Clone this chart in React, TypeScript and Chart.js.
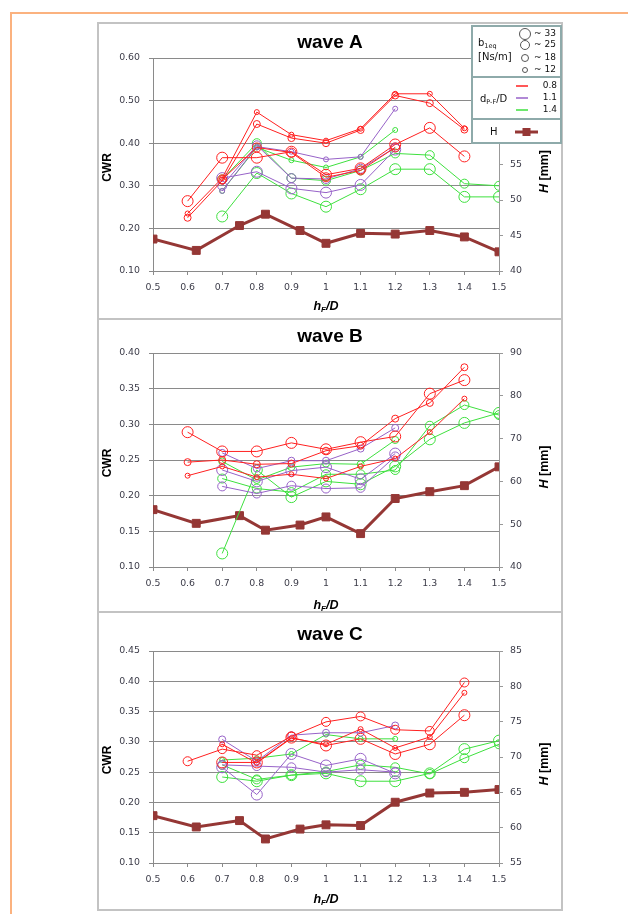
import React, { useEffect, useRef } from "react";
import { Chart, registerables } from "chart.js";
Chart.register(...registerables);

// ---------- data ----------
const X_CWR = [0.6, 0.7, 0.8, 0.9, 1.0, 1.1, 1.2, 1.3, 1.4, 1.5];
const X_H = [0.5, 0.625, 0.75, 0.825, 0.925, 1.0, 1.1, 1.2, 1.3, 1.4, 1.5];

const D_VALUES = ["0.8", "1.1", "1.4"];
const B_VALUES = [33, 25, 18, 12];

// wave A
const A_H = [44.5, 42.9, 46.4, 48.0, 45.7, 43.9, 45.3, 45.2, 45.7, 44.8, 42.7];
const A_d08_b12 = [0.235, 0.318, 0.473, 0.42, 0.406, 0.434, 0.516, 0.516, 0.435, null];
const A_d08_b18 = [0.225, 0.312, 0.445, 0.412, 0.4, 0.431, 0.512, 0.494, 0.432, null];
const A_d08_b25 = [null, 0.315, 0.39, 0.378, 0.32, 0.336, 0.39, null, null, null];
const A_d08_b33 = [0.264, 0.366, 0.366, 0.38, 0.326, 0.341, 0.397, 0.436, 0.369, null];
const A_d11_b12 = [null, 0.288, 0.392, 0.38, 0.362, 0.368, 0.481, null, null, null];
const A_d11_b25 = [null, 0.3, 0.395, 0.318, 0.316, 0.34, 0.39, null, null, null];
const A_d11_b33 = [null, 0.318, 0.333, 0.294, 0.284, 0.302, 0.385, null, null, null];
const A_d14_b12 = [null, 0.288, 0.39, 0.36, 0.343, 0.368, 0.431, null, null, null];
const A_d14_b25 = [null, 0.315, 0.4, 0.318, 0.312, 0.336, 0.376, 0.372, 0.305, 0.3];
const A_d14_b33 = [null, 0.228, 0.33, 0.282, 0.251, 0.292, 0.339, 0.339, 0.274, 0.274];

// wave B
const B_H = [53.4, 50.2, 52.0, 48.6, 49.8, 51.7, 47.8, 56.0, 57.6, 59.0, 63.4];
const B_d08_b33 = [0.289, 0.262, 0.262, 0.274, 0.265, 0.275, 0.283, 0.343, 0.362, null];
const B_d08_b18 = [0.247, 0.25, 0.244, 0.245, 0.263, 0.27, 0.308, 0.33, 0.38, null];
const B_d08_b12 = [0.228, 0.241, 0.226, 0.23, 0.224, 0.241, 0.252, 0.289, 0.336, null];
const B_d11_b18 = [null, 0.26, 0.238, 0.249, 0.249, 0.266, 0.295, null, null, null];
const B_d11_b33 = [null, 0.236, 0.22, 0.235, 0.24, 0.223, 0.259, null, null, null];
const B_d11_b25 = [null, 0.213, 0.203, 0.214, 0.21, 0.211, 0.255, null, null, null];
const B_d14_b33 = [null, 0.119, 0.236, 0.198, 0.22, 0.216, 0.241, 0.279, 0.302, 0.316];
const B_d14_b18 = [null, 0.248, 0.222, 0.24, 0.245, 0.244, 0.278, null, null, null];
const B_d14_b25 = [null, 0.224, 0.21, 0.205, 0.23, 0.23, 0.236, 0.298, 0.327, 0.313];

// wave C
const C_H = [61.7, 60.1, 61.0, 58.4, 59.8, 60.4, 60.3, 63.6, 64.9, 65.0, 65.4];
const C_d08_b25 = [0.268, 0.288, 0.278, 0.309, 0.333, 0.342, 0.32, 0.318, 0.398, null];
const C_d08_b12 = [null, 0.296, 0.265, 0.306, 0.296, 0.321, 0.29, 0.308, 0.381, null];
const C_d08_b33 = [null, 0.266, 0.266, 0.307, 0.294, 0.305, 0.28, 0.296, 0.344, null];
const C_d11_b18 = [null, 0.304, 0.268, 0.311, 0.315, 0.315, 0.327, null, null, null];
const C_d11_b33 = [null, 0.258, 0.213, 0.28, 0.261, 0.272, 0.248, null, null, null];
const C_d11_b25 = [null, 0.262, 0.26, 0.258, 0.25, 0.254, 0.25, null, null, null];
const C_d14_b12 = [null, 0.27, 0.273, 0.28, 0.312, 0.305, 0.305, null, null, null];
const C_d14_b25 = [null, 0.262, 0.238, 0.245, 0.251, 0.262, 0.258, 0.247, 0.273, 0.296];
const C_d14_b33 = [null, 0.242, 0.235, 0.245, 0.248, 0.235, 0.235, 0.248, 0.288, 0.302];

type Series = { d: string; b: number; values: (number | null)[] };

const SERIES_A: Series[] = [
  { d: "0.8", b: 12, values: A_d08_b12 },
  { d: "0.8", b: 18, values: A_d08_b18 },
  { d: "0.8", b: 25, values: A_d08_b25 },
  { d: "0.8", b: 33, values: A_d08_b33 },
  { d: "1.1", b: 12, values: A_d11_b12 },
  { d: "1.1", b: 25, values: A_d11_b25 },
  { d: "1.1", b: 33, values: A_d11_b33 },
  { d: "1.4", b: 12, values: A_d14_b12 },
  { d: "1.4", b: 25, values: A_d14_b25 },
  { d: "1.4", b: 33, values: A_d14_b33 },
];
const SERIES_B: Series[] = [
  { d: "0.8", b: 33, values: B_d08_b33 },
  { d: "0.8", b: 18, values: B_d08_b18 },
  { d: "0.8", b: 12, values: B_d08_b12 },
  { d: "1.1", b: 18, values: B_d11_b18 },
  { d: "1.1", b: 33, values: B_d11_b33 },
  { d: "1.1", b: 25, values: B_d11_b25 },
  { d: "1.4", b: 33, values: B_d14_b33 },
  { d: "1.4", b: 18, values: B_d14_b18 },
  { d: "1.4", b: 25, values: B_d14_b25 },
];
const SERIES_C: Series[] = [
  { d: "0.8", b: 25, values: C_d08_b25 },
  { d: "0.8", b: 12, values: C_d08_b12 },
  { d: "0.8", b: 33, values: C_d08_b33 },
  { d: "1.1", b: 18, values: C_d11_b18 },
  { d: "1.1", b: 33, values: C_d11_b33 },
  { d: "1.1", b: 25, values: C_d11_b25 },
  { d: "1.4", b: 12, values: C_d14_b12 },
  { d: "1.4", b: 25, values: C_d14_b25 },
  { d: "1.4", b: 33, values: C_d14_b33 },
];

// ---------- styles ----------
const D_COLOR: Record<string, string> = { "0.8": "#ff2020", "1.1": "#9762c8", "1.4": "#3ee03e" };
const B_RADIUS: Record<number, number> = { 33: 5.5, 25: 4.5, 18: 3.5, 12: 2.5 };
const H_COLOR = "#953735";
const TICK_FONT = { family: "'DejaVu Sans', sans-serif", size: 9.4 };
const TICK_COLOR = "#3b3b48";
const GRID = "#8a8a8a";
const SANS = "'Liberation Sans', Arial, sans-serif";

type Panel = {
  key: string;
  title: string;
  top: number;
  height: number;
  chartTop: number;
  chartBottom: number;
  titleY: number;
  xTitleY: number;
  yMin: number;
  yMax: number;
  yStep: number;
  hMin: number;
  hMax: number;
  hStep: number;
  series: Series[];
  h: number[];
  legend: boolean;
};

const PANELS: Panel[] = [
  { key: "A", title: "wave A", top: 22, height: 298, chartTop: 36, chartBottom: 249, titleY: 21, xTitleY: 285,
    yMin: 0.1, yMax: 0.6, yStep: 0.1, hMin: 40, hMax: 70, hStep: 5, series: SERIES_A, h: A_H, legend: true },
  { key: "B", title: "wave B", top: 318, height: 295, chartTop: 35, chartBottom: 249, titleY: 19, xTitleY: 288,
    yMin: 0.1, yMax: 0.4, yStep: 0.05, hMin: 40, hMax: 90, hStep: 10, series: SERIES_B, h: B_H, legend: false },
  { key: "C", title: "wave C", top: 611, height: 300, chartTop: 40, chartBottom: 252, titleY: 24, xTitleY: 289,
    yMin: 0.1, yMax: 0.45, yStep: 0.05, hMin: 55, hMax: 85, hStep: 5, series: SERIES_C, h: C_H, legend: false },
];

const PANEL_LEFT = 97;
const PANEL_W = 466;
const AREA_LEFT = 56;
const AREA_RIGHT = 402;

type Part = { t: string; font: string; dy?: number };
function drawParts(ctx: CanvasRenderingContext2D, parts: Part[], x: number, y: number, align: "left" | "center" | "right") {
  let total = 0;
  for (const p of parts) {
    ctx.font = p.font;
    total += ctx.measureText(p.t).width;
  }
  let cx = align === "left" ? x : align === "center" ? x - total / 2 : x - total;
  ctx.textAlign = "left";
  ctx.textBaseline = "middle";
  for (const p of parts) {
    ctx.font = p.font;
    ctx.fillText(p.t, cx, y + (p.dy || 0));
    cx += ctx.measureText(p.t).width;
  }
}

function drawLegend(ctx: CanvasRenderingContext2D) {
  const x0 = 375, y0 = 4, x1 = 464, y1 = 121;
  ctx.save();
  ctx.fillStyle = "#ffffff";
  ctx.fillRect(x0, y0, x1 - x0, y1 - y0);
  ctx.strokeStyle = "#8eaaaa";
  ctx.lineWidth = 2;
  ctx.strokeRect(x0, y0, x1 - x0, y1 - y0);
  ctx.beginPath();
  ctx.moveTo(x0, 55); ctx.lineTo(x1, 55);
  ctx.moveTo(x0, 97); ctx.lineTo(x1, 97);
  ctx.stroke();

  ctx.fillStyle = "#111";
  const f10 = `10px 'DejaVu Sans', sans-serif`;
  const f6 = `6.5px 'DejaVu Sans', sans-serif`;
  drawParts(ctx, [{ t: "b", font: f10 }, { t: "1eq", font: f6, dy: 3 }], 381, 21, "left");
  drawParts(ctx, [{ t: "[Ns/m]", font: f10 }], 381, 35, "left");
  const cy = [12, 23, 36, 48];
  B_VALUES.forEach((b, i) => {
    ctx.strokeStyle = "#555";
    ctx.lineWidth = 1;
    ctx.beginPath();
    ctx.arc(428, cy[i], B_RADIUS[b], 0, Math.PI * 2);
    ctx.stroke();
    ctx.fillStyle = "#111";
    drawParts(ctx, [{ t: "~ " + b, font: `9px 'DejaVu Sans', sans-serif` }], 437, cy[i], "left");
  });

  drawParts(ctx, [{ t: "d", font: f10 }, { t: "P-F", font: f6, dy: 3 }, { t: "/D", font: f10 }], 383, 77, "left");
  const ly = [64, 76, 88];
  D_VALUES.forEach((d, i) => {
    ctx.strokeStyle = D_COLOR[d];
    ctx.lineWidth = 1.5;
    ctx.beginPath();
    ctx.moveTo(419, ly[i]); ctx.lineTo(431, ly[i]);
    ctx.stroke();
    ctx.fillStyle = "#111";
    drawParts(ctx, [{ t: d, font: `9px 'DejaVu Sans', sans-serif` }], 460, ly[i], "right");
  });

  drawParts(ctx, [{ t: "H", font: f10 }], 393, 110, "left");
  ctx.strokeStyle = H_COLOR;
  ctx.lineWidth = 3;
  ctx.beginPath();
  ctx.moveTo(418, 110); ctx.lineTo(441, 110);
  ctx.stroke();
  ctx.fillStyle = H_COLOR;
  ctx.fillRect(425.5, 106, 8, 8);
  ctx.restore();
}

function makeDecor(p: Panel) {
  return {
    id: "decor" + p.key,
    afterDraw(chart: any) {
      const ctx: CanvasRenderingContext2D = chart.ctx;
      const ca = chart.chartArea;
      const w = chart.width, h = chart.height;
      const midY = (ca.top + ca.bottom) / 2;
      ctx.save();
      ctx.strokeStyle = "#c3c3c3";
      ctx.lineWidth = 2;
      ctx.strokeRect(1, 1, w - 2, h - 2);

      ctx.fillStyle = "#000";
      drawParts(ctx, [{ t: p.title, font: `bold 19px ${SANS}` }], w / 2, p.titleY, "center");

      drawParts(ctx,
        [{ t: "h", font: `italic bold 12.5px ${SANS}` }, { t: "F", font: `italic bold 8px ${SANS}`, dy: 3 }, { t: "/D", font: `italic bold 12.5px ${SANS}` }],
        (ca.left + ca.right) / 2, p.xTitleY, "center");

      ctx.save();
      ctx.translate(11, midY + 3);
      ctx.rotate(-Math.PI / 2);
      drawParts(ctx, [{ t: "CWR", font: `bold 12px ${SANS}` }], 0, 0, "center");
      ctx.restore();

      ctx.save();
      ctx.translate(448, midY + 7);
      ctx.rotate(-Math.PI / 2);
      drawParts(ctx, [{ t: "H", font: `italic bold 12.5px ${SANS}` }, { t: " [mm]", font: `bold 12.5px ${SANS}` }], 0, 0, "center");
      ctx.restore();

      if (p.legend) drawLegend(ctx);
      ctx.restore();
    },
  };
}

function makeConfig(p: Panel): any {
  const datasets: any[] = p.series.map((s) => ({
    type: "line",
    label: `d=${s.d} b=${s.b}`,
    data: X_CWR.map((x, i) => ({ x, y: s.values[i] })),
    yAxisID: "y",
    borderColor: D_COLOR[s.d],
    borderWidth: 1,
    backgroundColor: "rgba(0,0,0,0)",
    fill: false,
    tension: 0,
    spanGaps: false,
    pointStyle: "circle",
    pointRadius: B_RADIUS[s.b],
    pointBorderWidth: 1,
    pointBorderColor: D_COLOR[s.d],
    pointBackgroundColor: "rgba(0,0,0,0)",
  }));
  datasets.push({
    type: "line",
    label: "H",
    data: X_H.map((x, i) => ({ x, y: p.h[i] })),
    yAxisID: "y2",
    borderColor: H_COLOR,
    borderWidth: 3,
    backgroundColor: H_COLOR,
    fill: false,
    tension: 0,
    pointStyle: "rect",
    pointRadius: 5.6,
    pointBorderWidth: 1,
    pointBorderColor: H_COLOR,
    pointBackgroundColor: H_COLOR,
  });
  const xh = p.height - p.chartBottom;
  return {
    type: "line",
    data: { datasets },
    options: {
      animation: false,
      responsive: false,
      devicePixelRatio: 1,
      layout: { padding: { top: p.chartTop, left: 0, right: 0, bottom: 0 } },
      plugins: { legend: { display: false }, tooltip: { enabled: false }, title: { display: false } },
      scales: {
        x: {
          type: "linear",
          min: 0.5,
          max: 1.5,
          ticks: {
            stepSize: 0.1,
            autoSkip: false,
            maxRotation: 0,
            padding: 7,
            font: TICK_FONT,
            color: TICK_COLOR,
            callback: (v: number) => String(Math.round(v * 10) / 10),
          },
          grid: { drawOnChartArea: false, drawTicks: true, tickLength: 4, color: GRID },
          border: { display: true, color: GRID },
          afterFit: (s: any) => { s.height = xh; },
        },
        y: {
          position: "left",
          min: p.yMin,
          max: p.yMax,
          ticks: { stepSize: p.yStep, padding: 9, font: TICK_FONT, color: TICK_COLOR, callback: (v: number) => v.toFixed(2) },
          grid: { color: GRID, drawTicks: true, tickLength: 4 },
          border: { display: true, color: GRID },
          afterFit: (s: any) => { s.width = AREA_LEFT; },
        },
        y2: {
          position: "right",
          min: p.hMin,
          max: p.hMax,
          ticks: { stepSize: p.hStep, padding: 7, font: TICK_FONT, color: TICK_COLOR, callback: (v: number) => String(v) },
          grid: { drawOnChartArea: false, drawTicks: true, tickLength: 4, color: "#999" },
          border: { display: true, color: "#999" },
          afterFit: (s: any) => { s.width = PANEL_W - AREA_RIGHT; },
        },
      },
    },
    plugins: [makeDecor(p)],
  };
}

function PanelChart({ p }: { p: Panel }) {
  const ref = useRef<HTMLCanvasElement | null>(null);
  useEffect(() => {
    if (!ref.current) return;
    const chart = new Chart(ref.current, makeConfig(p));
    return () => chart.destroy();
  }, [p]);
  return (
    <canvas
      ref={ref}
      width={PANEL_W}
      height={p.height}
      style={{ position: "absolute", left: PANEL_LEFT, top: p.top, width: PANEL_W, height: p.height, display: "block" }}
    />
  );
}

export default function App() {
  return (
    <div style={{ position: "absolute", left: 0, top: 0, width: 628, height: 914, background: "#fff", overflow: "hidden" }}>
      <div
        style={{
          position: "absolute",
          left: 10,
          top: 12,
          width: 640,
          height: 920,
          borderTop: "2px solid #fbb27f",
          borderLeft: "2px solid #fbb27f",
          boxSizing: "border-box",
        }}
      />
      {PANELS.map((p) => (
        <PanelChart key={p.key} p={p} />
      ))}
    </div>
  );
}
